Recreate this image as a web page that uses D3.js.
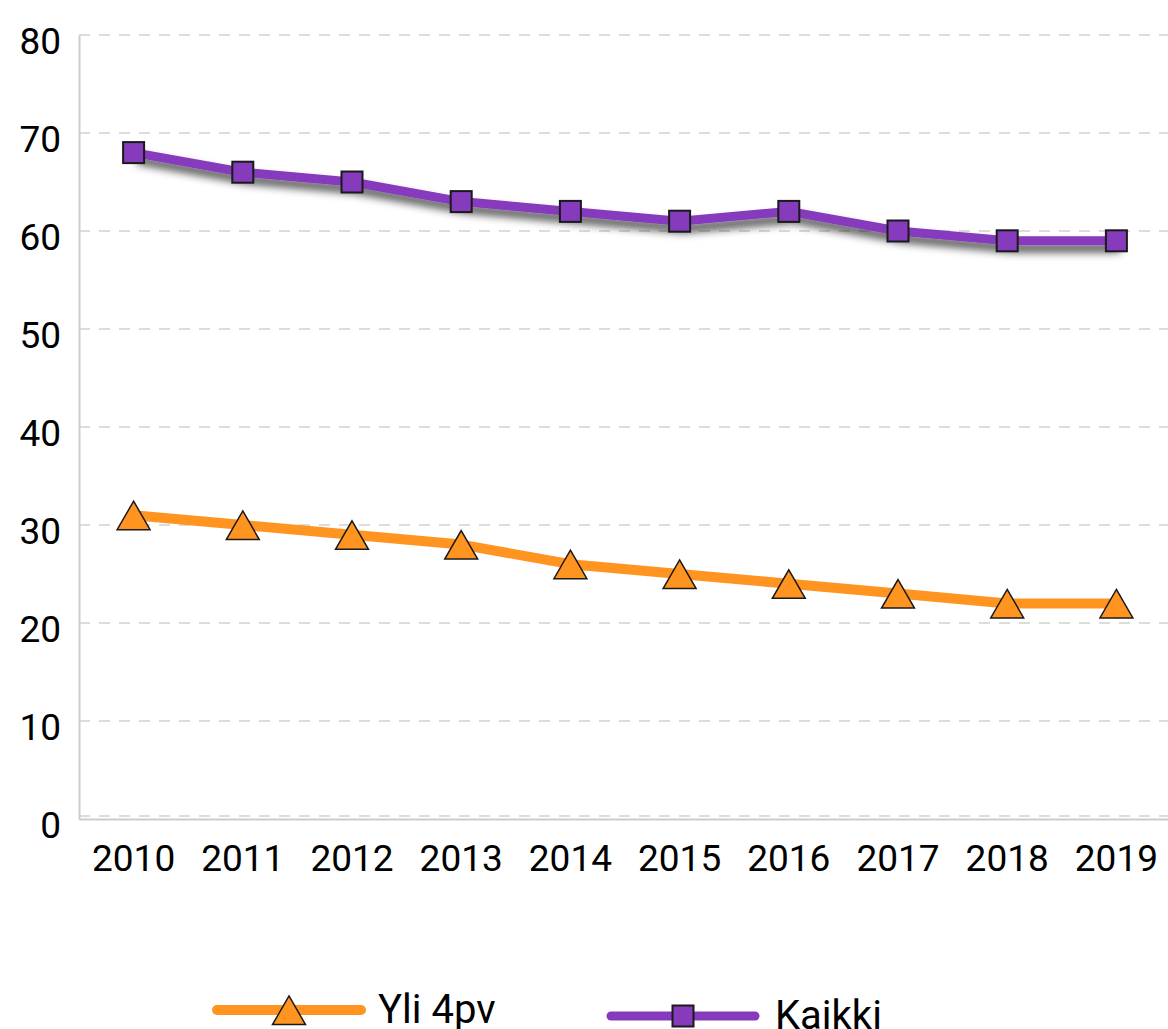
<!DOCTYPE html>
<html>
<head>
<meta charset="utf-8">
<script src="https://cdn.jsdelivr.net/npm/d3@7"></script>
<style>
  body { margin: 0; background: #fff; }
  svg text { font-family: Roboto, "Noto Sans", sans-serif; }
</style>
</head>
<body>
<div id="chart"></div>
<script>
// values
var years = ["2010", "2011", "2012", "2013", "2014", "2015", "2016", "2017", "2018", "2019"];
var yli4pv = [31, 30, 29, 28, 26, 25, 24, 23, 22, 22];
var kaikki = [68, 66, 65, 63, 62, 61, 62, 60, 59, 59];
var yTicks = [0, 10, 20, 30, 40, 50, 60, 70, 80];
var seriesNames = ["Yli 4pv", "Kaikki"];

var W = 1168, H = 1029;
var margin = {top: 35, right: -3, bottom: 210, left: 79};
var width = W - margin.left - margin.right,
    height = H - margin.top - margin.bottom;

var orange = "#ff9520", purple = "#853bbb";

var svg = d3.select("#chart").append("svg")
    .attr("width", W)
    .attr("height", H);

var defs = svg.append("defs");
var f = defs.append("filter").attr("id", "shadow")
    .attr("x", "-10%").attr("y", "-50%").attr("width", "120%").attr("height", "200%");
f.append("feDropShadow")
    .attr("dx", 4).attr("dy", 7)
    .attr("stdDeviation", 4)
    .attr("flood-color", "#000")
    .attr("flood-opacity", 0.7);

var g = svg.append("g")
    .attr("transform", "translate(" + margin.left + "," + margin.top + ")");

var x = d3.scaleBand().domain(years).range([0, width]);
var y = d3.scaleLinear().domain([0, 80]).range([height, 0]);

// grid lines
g.append("g").selectAll("line")
    .data(yTicks)
    .enter().append("line")
    .attr("x1", 0).attr("x2", width)
    .attr("y1", function(d) { return y(d) - (d === 0 ? 3 : 0); })
    .attr("y2", function(d) { return y(d) - (d === 0 ? 3 : 0); })
    .attr("stroke", "#dcdcdc")
    .attr("stroke-width", 2)
    .attr("stroke-dasharray", "11,9");

// y axis
var yAxis = g.append("g")
    .call(d3.axisLeft(y).tickValues(yTicks).tickSize(0).tickPadding(18))
    .attr("font-family", null);
yAxis.select(".domain").attr("stroke", "#cccccc").attr("stroke-width", 2);
yAxis.selectAll("text")
    .attr("dy", "0.5em")
    .style("font-size", "37px")
    .style("fill", "#000");

// x axis
var xAxis = g.append("g")
    .attr("transform", "translate(0," + height + ")")
    .call(d3.axisBottom(x).tickSize(0).tickPadding(26))
    .attr("font-family", null);
xAxis.select(".domain").attr("stroke", "#cccccc").attr("stroke-width", 2);
xAxis.selectAll("text")
    .style("font-size", "37px")
    .style("fill", "#000");

var px = function(d, i) { return x(years[i]) + x.bandwidth() / 2; };
var line = d3.line()
    .x(px)
    .y(function(d) { return y(d); });

var tri = d3.symbol().type(d3.symbolTriangle).size(470);
var triShift = 5;
var sq = 21;

// Yli 4pv
g.append("path")
    .datum(yli4pv)
    .attr("d", line)
    .attr("fill", "none")
    .attr("stroke", orange)
    .attr("stroke-width", 10)
    .attr("stroke-linejoin", "round");
g.append("g").selectAll("path")
    .data(yli4pv)
    .enter().append("path")
    .attr("d", tri)
    .attr("transform", function(d, i) { return "translate(" + px(d, i) + "," + (y(d) + triShift) + ")"; })
    .attr("fill", orange)
    .attr("stroke", "#1a1a1a")
    .attr("stroke-width", 1.5);

// Kaikki
var kg = g.append("g").attr("filter", "url(#shadow)");
kg.append("path")
    .datum(kaikki)
    .attr("d", line)
    .attr("fill", "none")
    .attr("stroke", purple)
    .attr("stroke-width", 9)
    .attr("stroke-linejoin", "round");
g.append("g").selectAll("rect")
    .data(kaikki)
    .enter().append("rect")
    .attr("x", function(d, i) { return px(d, i) - sq / 2; })
    .attr("y", function(d) { return y(d) - sq / 2; })
    .attr("width", sq).attr("height", sq)
    .attr("fill", purple)
    .attr("stroke", "#1a1a1a")
    .attr("stroke-width", 2);

// legend
var legend = svg.append("g");
var items = [
    {name: seriesNames[0], color: orange, x: 217, y: 1010, sw: 10, text: 378},
    {name: seriesNames[1], color: purple, x: 611, y: 1016, sw: 9, text: 775}
];
items.forEach(function(it, k) {
    legend.append("line")
        .attr("x1", it.x).attr("x2", it.x + 144)
        .attr("y1", it.y).attr("y2", it.y)
        .attr("stroke", it.color)
        .attr("stroke-width", it.sw)
        .attr("stroke-linecap", "round");
    if (k === 0) {
        legend.append("path")
            .attr("d", tri)
            .attr("transform", "translate(" + (it.x + 72) + "," + (it.y + triShift) + ")")
            .attr("fill", it.color)
            .attr("stroke", "#1a1a1a")
            .attr("stroke-width", 1.5);
    } else {
        legend.append("rect")
            .attr("x", it.x + 72 - sq / 2).attr("y", it.y - sq / 2)
            .attr("width", sq).attr("height", sq)
            .attr("fill", it.color)
            .attr("stroke", "#1a1a1a")
            .attr("stroke-width", 2);
    }
    legend.append("text")
        .attr("x", it.text)
        .attr("y", it.y + 13)
        .style("font-size", "40px")
        .style("fill", "#000")
        .text(it.name);
});
</script>
</body>
</html>
